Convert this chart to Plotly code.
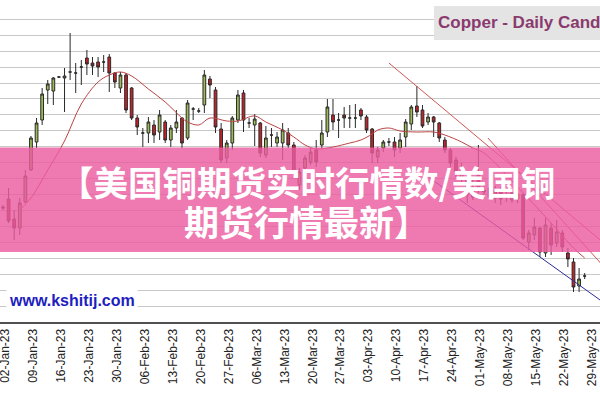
import plotly.graph_objects as go

# ---- data (price units arbitrary, no y labels shown) ----
opens = [746.5, 750.5, 740.5, 736, 749, 765, 779, 790, 805, 804.5,
         811.5, 811, 814, 813.5, 816.5, 821, 818.5, 819, 819, 821.5,
         813.5, 806, 812.5, 806, 791, 783.5, 783.5, 787.5, 784, 789,
         780, 786, 791, 781, 795.5, 794.5, 797.5, 810.5, 805, 785.5,
         771, 778.5, 790, 803.5, 788.5, 787.5, 788.5, 772.5, 782.5, 778.5,
         778.5, 783.5, 777.5, 757.5, 766, 769, 775, 777.5, 784, 792.5,
         790, 792.5, 791, 791, 795, 791.5, 785.5, 771.5, 776, 779,
         779, 776, 781.5, 788, 797, 795, 789, 791.5, 788.5, 780,
         775, 770, 761, 760, 751.5, 764, 755, 756, 751, 754.5,
         751.5, 750, 753, 752.5, 729, 732.5, 736, 723.5, 736, 728.5,
         733.5, 723.5, 719, 707, 712]
highs = [747.5, 756, 745, 751, 765, 782, 791, 806, 810, 811.5,
         812, 816, 833.5, 818.5, 820, 825, 821.5, 821.5, 822.5, 823,
         814, 814, 813.5, 806.5, 792.5, 786, 791.5, 790, 795, 790,
         787.5, 795, 791.5, 800, 796.5, 796, 815, 812, 806.5, 788.5,
         780, 792, 805, 805, 791, 793, 789, 787, 786, 784,
         788.5, 786, 779, 766, 772.5, 776, 780, 790, 800.5, 800.5,
         793.5, 796.5, 797.5, 798, 796, 792.5, 786, 776.5, 780, 781,
         781.5, 783.5, 790.5, 797.5, 807, 797.5, 793.5, 792, 789, 781.5,
         776, 771.5, 768.5, 764, 760, 777.5, 757.5, 758.5, 757, 756.5,
         754, 755, 755, 753.5, 735, 741, 736.5, 741, 738.5, 740,
         735, 726, 721, 716, 713.5]
lows = [745, 738.5, 730, 732.5, 748.5, 764.5, 776, 787.5, 798, 797.5,
        811, 794, 810, 803.5, 807.5, 812.5, 812.5, 811.5, 814, 804,
        806, 803.5, 793.5, 790, 782.5, 776.5, 778.5, 778.5, 780, 778.5,
        776.5, 783.5, 776, 780, 790, 793.5, 793.5, 801, 783.5, 768.5,
        768.5, 775, 788.5, 784, 786, 777, 771.5, 771, 776.5, 776.5,
        770, 776, 762.5, 755, 764, 767.5, 766.5, 776, 781.5, 785,
        781, 786, 786, 786, 790, 783.5, 768.5, 768.5, 774, 777,
        771.5, 773.5, 776.5, 785, 791.5, 786, 787.5, 781.5, 779, 773.5,
        766.5, 761.5, 759, 748.5, 750, 753.5, 751, 750, 748.5, 747.5,
        749, 748.5, 748.5, 730, 725, 730, 721.5, 721.5, 722.5, 726.5,
        724, 716.5, 704, 704, 710.5]
closes = [746, 739.5, 736, 748.5, 762, 781, 788.5, 803, 808, 811,
          811.5, 812, 814, 813.5, 816.5, 818, 817, 816.5, 819, 813.5,
          809, 812.5, 795, 791, 786.5, 783.5, 789, 782.5, 792.5, 780,
          786, 789, 778.5, 798.5, 795.5, 794.5, 812.5, 807.5, 786.5, 770,
          778.5, 791, 802.5, 790, 788.5, 790.5, 773.5, 781, 782.5, 781.5,
          785, 777.5, 764, 764, 771, 774, 769, 783.5, 796.5, 789,
          790, 791, 791, 791, 792, 785, 773.5, 775, 779, 779,
          775, 780, 789, 796.5, 794, 787, 791.5, 789, 781, 775,
          768.5, 764, 766, 752.5, 756, 755, 754, 751.5, 754.5, 750.5,
          751.5, 753.5, 750.5, 731, 733.5, 736.5, 724, 737.5, 727.5, 734,
          726.5, 720.5, 706.5, 710.5, 712]

# moving-average line points (trading-day index, value)
ma_idx = [3, 5, 8, 11, 14, 17, 19, 21, 23, 26, 29, 32, 33, 35, 37, 40, 42, 45,
          47, 50, 52, 54, 56, 59, 62, 64, 66, 67, 69, 71, 74, 77, 79, 82, 84,
          86, 92, 98, 102, 104]
ma_val = [745, 751, 765, 779.5, 798, 809, 812.5, 814, 812, 805.5, 799, 791,
          789, 787.5, 791, 789.5, 789.5, 792, 789, 785, 781.5, 777.5, 775.5,
          776.5, 778.5, 780, 783, 785, 786, 784.5, 784, 784, 782.5, 779, 776,
          773.5, 756.5, 738.5, 726, 721]

# trend lines (index, value endpoints)
trend1_idx = [69, 107]
trend1_val = [818.5, 729.5]
trend2_idx = [86.7, 107]
trend2_val = [781, 718]
support_idx = [76.3, 107]
support_val = [761, 699.5]

tick_idx = list(range(0, 110, 5))
tick_labels = ["02-Jan-23", "09-Jan-23", "16-Jan-23", "23-Jan-23", "30-Jan-23",
               "06-Feb-23", "13-Feb-23", "20-Feb-23", "27-Feb-23", "06-Mar-23",
               "13-Mar-23", "20-Mar-23", "27-Mar-23", "03-Apr-23", "10-Apr-23",
               "17-Apr-23", "24-Apr-23", "01-May-23", "08-May-23", "15-May-23",
               "22-May-23", "29-May-23"]

title_text = "Copper - Daily Cand"
watermark = "www.kshitij.com"
banner_line1 = "【美国铜期货实时行情数/美国铜"
banner_line2 = "期货行情最新】"

days = list(range(len(opens)))
LABEL_SHIFT = 0.36  # labels sit ~2px right of the candle centre in the reference

fig = go.Figure()
fig.add_trace(go.Candlestick(
    x=days, open=opens, high=highs, low=lows, close=closes,
    increasing=dict(line=dict(color="#2a2a2a", width=1), fillcolor="#9dbb55"),
    decreasing=dict(line=dict(color="#2a2a2a", width=1), fillcolor="#c4222a"),
    whiskerwidth=0, hoverinfo="skip", showlegend=False))
fig.add_trace(go.Scatter(x=ma_idx, y=ma_val, mode="lines",
                         line=dict(color="#bb4444", width=1, shape="spline"),
                         hoverinfo="skip", showlegend=False))
fig.add_trace(go.Scatter(x=trend1_idx, y=trend1_val, mode="lines",
                         line=dict(color="#d05555", width=1),
                         hoverinfo="skip", showlegend=False))
fig.add_trace(go.Scatter(x=trend2_idx, y=trend2_val, mode="lines",
                         line=dict(color="#d05555", width=1),
                         hoverinfo="skip", showlegend=False))
fig.add_trace(go.Scatter(x=support_idx, y=support_val, mode="lines",
                         line=dict(color="#2a2a9a", width=1),
                         hoverinfo="skip", showlegend=False))

# plot area: page y 8..322, full width
PT, PB = 8, 322
PH = PB - PT
def py(page_y):
    return (PB - page_y) / PH

fig.update_layout(
    width=600, height=400,
    margin=dict(l=0, r=0, t=PT, b=400 - PB, pad=0),
    paper_bgcolor="white", plot_bgcolor="white",
    xaxis=dict(range=[-0.536, 106.74], tickmode="array",
               tickvals=[t + LABEL_SHIFT for t in tick_idx],
               ticktext=tick_labels, tickangle=-90, showgrid=False,
               zeroline=False, showline=True, linecolor="#505050", linewidth=2,
               ticks="", automargin=False, ticklabeloverflow="allow",
               tickfont=dict(family="Liberation Sans, Arial", size=12, color="#222222"),
               rangeslider=dict(visible=False), fixedrange=True),
    yaxis=dict(range=[689, 846], tick0=689, dtick=7.965, showticklabels=False,
               showgrid=True, gridcolor="#c9c9c9", gridwidth=1, zeroline=False,
               showline=False, fixedrange=True, automargin=False),
    shapes=[
        dict(type="rect", xref="paper", yref="paper", x0=0, x1=1,
             y0=py(252), y1=py(147.5), fillcolor="rgba(236,92,160,0.82)",
             line=dict(width=0), layer="above"),
        dict(type="rect", xref="paper", yref="paper", x0=434 / 600, x1=1,
             y0=py(40), y1=py(6), fillcolor="#e4e4e4",
             line=dict(width=0), layer="above"),
    ],
    annotations=[
        dict(text="<b>" + title_text + "</b>", xref="paper", yref="paper",
             x=436 / 600, y=py(23), xanchor="left", yanchor="middle",
             showarrow=False,
             font=dict(family="Liberation Sans, Arial", size=17, color="#8a3a6e")),
        dict(text="<b>" + watermark + "</b>", xref="paper", yref="paper",
             x=6 / 600, y=py(300), xanchor="left", yanchor="middle",
             showarrow=False, bgcolor="white", borderpad=2,
             font=dict(family="Liberation Sans, Arial", size=16, color="#1e1ec0")),
        dict(text="<b>" + banner_line1 + "</b>", xref="paper", yref="paper",
             x=307 / 600, y=py(181), xanchor="center", yanchor="middle",
             showarrow=False,
             font=dict(family="Noto Sans CJK SC", size=34.5, color="white")),
        dict(text="<b>" + banner_line2 + "</b>", xref="paper", yref="paper",
             x=306 / 600, y=py(220), xanchor="center", yanchor="middle",
             showarrow=False,
             font=dict(family="Noto Sans CJK SC", size=35, color="white")),
    ],
)

fig.write_html("out.html", config={"displayModeBar": False, "staticPlot": True},
               post_script="document.body.style.margin='0';document.body.style.overflow='hidden';")
